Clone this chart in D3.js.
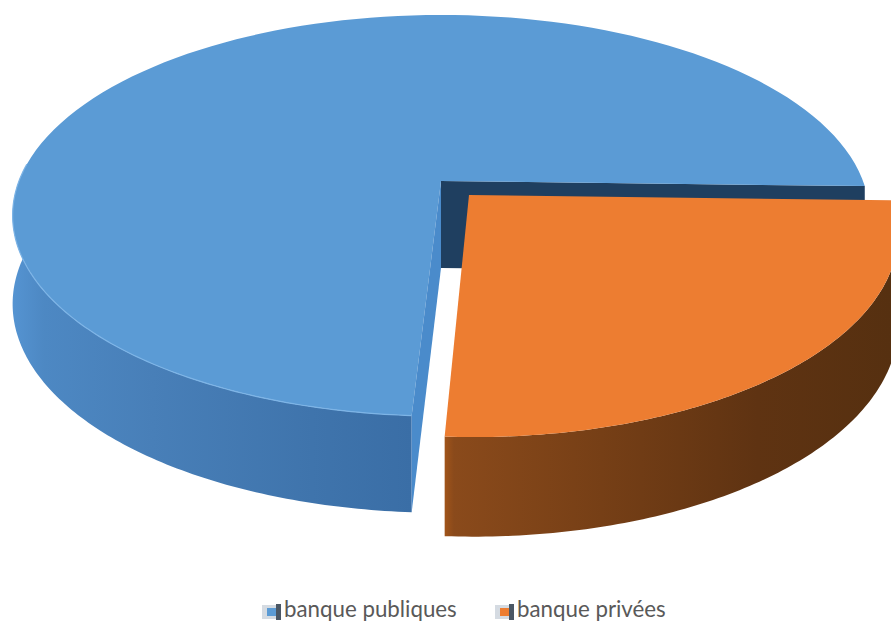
<!DOCTYPE html>
<html>
<head>
<meta charset="utf-8">
<style>
  html, body { margin: 0; padding: 0; background: #fff; overflow: hidden; }
  text { font-family: "Lato", "Open Sans", sans-serif; fill: #595959; }
</style>
<script src="https://cdn.jsdelivr.net/npm/d3@7"></script>
</head>
<body>
<div class="chart"></div>
<script>
var labels = ["banque publiques", "banque privées"];
var values = [74.5, 25.5];
var topColors = ["#5b9bd5", "#ed7d31"];

var width = 891,
    height = 621;

var startDeg = 183.3,   // where the first slice begins, clockwise from the back
    rx = 422,           // disc radius across
    ry = 194.6,         // disc radius front to back
    persp = 0.172,      // front of the disc looks bigger than the back
    depth = 87,         // thickness at the centre
    deptPersp = 0.1;

// the pulled out slice sits nearer the viewer, so it is a bit taller and skewed
var centers = [
  {x: 441, y: 181, scaleY: 1, skew: 0},
  {x: 469, y: 195, scaleY: 1.03, skew: 5}
];

var svg = d3.select(".chart").append("svg")
    .attr("width", width)
    .attr("height", height)
    .style("display", "block");

var defs = svg.append("defs");

function sideGradient(id, x1, x2, stops) {
  var g = defs.append("linearGradient")
      .attr("id", id)
      .attr("gradientUnits", "userSpaceOnUse")
      .attr("x1", x1).attr("x2", x2)
      .attr("y1", 0).attr("y2", 0);
  stops.forEach(function(s) {
    g.append("stop").attr("offset", s[0]).attr("stop-color", s[1]);
  });
}

sideGradient("sideBlue", 12, 412, [
  [0, "#5594d2"], [0.08, "#4d88c3"], [0.35, "#487fb8"], [0.75, "#3f74ac"], [1, "#3a6ea6"]
]);
sideGradient("sideOrange", 445, 891, [
  [0, "#a0541a"], [0.02, "#8a4a1b"], [0.35, "#763f16"], [0.7, "#5f3312"], [1, "#563010"]
]);

var pie = d3.pie()
    .sort(null)
    .startAngle(startDeg * Math.PI / 180)
    .endAngle((startDeg + 360) * Math.PI / 180);
var slices = pie(values);

// point on the disc rim at angle a, seen in perspective
function project(c, a, drop) {
  var u = Math.sin(a),
      v = -Math.cos(a),
      w = 1 - persp * v;
  return [
    c.x + rx * u / w + c.skew * v,
    c.y + c.scaleY * (ry * v / w + (drop ? depth / (1 - deptPersp * v) : 0))
  ];
}

function arcPoints(c, a0, a1, drop) {
  return d3.range(0, 121).map(function(i) {
    return project(c, a0 + (a1 - a0) * i / 120, drop);
  });
}

var line = d3.line();

function topPath(c, d) {
  return line([[c.x, c.y]].concat(arcPoints(c, d.startAngle, d.endAngle, false))) + "Z";
}

function sidePath(c, a0, a1) {
  return line(arcPoints(c, a0, a1, false).concat(arcPoints(c, a1, a0, true))) + "Z";
}

function wallPath(c, a) {
  return line([[c.x, c.y], project(c, a, false), project(c, a, true), [c.x, c.y + depth]]) + "Z";
}

var blue = slices[0], orange = slices[1];
var blueC = centers[0], orangeC = centers[1];
var blueFrontEnd = 275 * Math.PI / 180;

// inner wall at the far cut, mostly hidden behind the orange slice
svg.append("path")
    .attr("d", wallPath(blueC, blue.endAngle))
    .attr("fill", "#1f3f60");

// round outer side of the blue slice
svg.append("path")
    .attr("d", sidePath(blueC, blue.startAngle, blueFrontEnd))
    .attr("fill", "url(#sideBlue)");

// top of the blue slice
svg.append("path")
    .attr("d", topPath(blueC, blue))
    .attr("fill", topColors[0]);

// lit rim along the front edge
svg.append("path")
    .attr("d", line(arcPoints(blueC, blue.startAngle, blueFrontEnd, false)))
    .attr("fill", "none")
    .attr("stroke", "#7db4e6")
    .attr("stroke-width", 1.2);

// straight wall facing the gap
svg.append("path")
    .attr("d", wallPath(blueC, blue.startAngle))
    .attr("fill", "#4a8bcb");

svg.append("path")
    .attr("d", sidePath(orangeC, orange.startAngle, orange.endAngle))
    .attr("fill", "url(#sideOrange)");

svg.append("path")
    .attr("d", topPath(orangeC, orange))
    .attr("fill", topColors[1]);

// legend
var legendX = [262, 495];

var legend = svg.selectAll("g.legend")
    .data(labels)
  .enter().append("g")
    .attr("class", "legend")
    .attr("transform", function(d, i) { return "translate(" + legendX[i] + ",604)"; });

legend.append("rect")
    .attr("x", 0).attr("y", 1)
    .attr("width", 14).attr("height", 14)
    .attr("fill", "#d5dbe2");

legend.append("rect")
    .attr("x", 5).attr("y", 4)
    .attr("width", 9).attr("height", 8)
    .attr("fill", function(d, i) { return topColors[i]; });

legend.append("rect")
    .attr("x", 14).attr("y", 0)
    .attr("width", 5).attr("height", 16)
    .attr("fill", "#4a5765");

legend.append("text")
    .attr("x", 22)
    .attr("y", 13)
    .attr("font-size", 22.3)
    .text(function(d) { return d; });
</script>
</body>
</html>
